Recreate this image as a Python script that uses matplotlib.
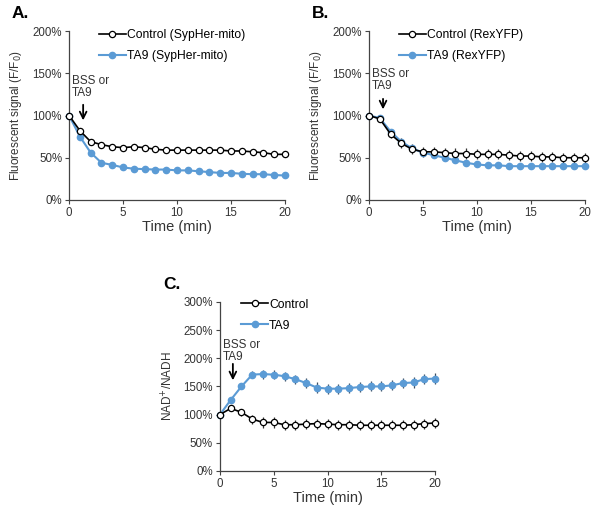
import matplotlib.pyplot as plt
from matplotlib.ticker import FuncFormatter

plt.rcParams['font.family'] = ['Liberation Sans', 'DejaVu Sans']

t = list(range(21))
BLUE = '#5b9bd5'

# panel A: SypHer-mito
a_ctrl = [100, 82, 69, 65.5, 63, 62, 63, 62, 60, 59, 59, 59, 59, 59, 59, 58, 58, 57, 56, 54, 54]
a_ta9 = [100, 75, 56, 44, 41.5, 38.5, 37, 36.5, 36, 36, 35, 35, 34, 33, 32, 32, 31, 30.5, 30.5, 29.5, 29]

# panel B: RexYFP
b_ctrl = [100, 96, 78, 67, 60, 57, 57, 56, 55, 55, 54, 54, 54, 53, 52, 52, 51, 51, 50, 50, 50]
b_ctrl_err = [1, 3, 5, 6, 6, 6, 6, 6, 6, 6, 6, 6, 6, 6, 6, 6, 6, 6, 6, 6, 6]
b_ta9 = [100, 97, 81, 69, 61, 56, 53, 50, 47, 44, 42, 41, 41, 40, 40, 40, 40, 40, 40, 40, 40]
b_ta9_err = [0.5, 1, 3, 3, 3, 2, 2, 2, 1.5, 1.5, 1.5, 1.5, 1.5, 1.5, 1.5, 1.5, 1.5, 1.5, 1.5, 1.5, 1.5]

# panel C: NAD+/NADH
c_ctrl = [100, 111, 104, 92, 86, 86, 82, 82, 83, 84, 83, 82, 82, 81, 81, 81, 81, 81, 82, 84, 85]
c_ctrl_err = [1, 4, 6, 8, 9, 9, 9, 9, 9, 9, 9, 9, 9, 9, 9, 9, 9, 9, 9, 9, 9]
c_ta9 = [100, 126, 150, 171, 172, 171, 168, 163, 156, 148, 146, 146, 147, 149, 150, 150, 152, 156, 157, 163, 164]
c_ta9_err = [1, 4, 5, 6, 8, 8, 8, 8, 9, 9, 9, 9, 9, 9, 9, 9, 9, 9, 9, 9, 9]

pct = FuncFormatter(lambda v, p: '%d%%' % v)


def panel(ax, ctrl, ta9, labels, ymax, ylabel, letter, ctrl_err=None, ta9_err=None,
          txt_y=None, arr=None, leg_x=0.13, leg_y=1.06):
    if ctrl_err is not None:
        ax.errorbar(t, ctrl, yerr=ctrl_err, fmt='none', ecolor='#333333',
                    elinewidth=0.9, capsize=0, clip_on=False, zorder=1)
        ax.errorbar(t, ta9, yerr=ta9_err, fmt='none', ecolor='#3f4f60',
                    elinewidth=0.9, capsize=0, clip_on=False, zorder=1)
    ax.plot(t, ctrl, color='black', lw=1.2, marker='o', ms=4.5, mfc='white',
            mec='black', mew=0.9, label=labels[0], clip_on=False, zorder=3)
    ax.plot(t, ta9, color=BLUE, lw=1.5, marker='o', ms=4.5, mfc=BLUE, mec=BLUE,
            label=labels[1], clip_on=False, zorder=2)
    ax.set_xlim(0, 20)
    ax.set_ylim(0, ymax)
    ax.set_xticks([0, 5, 10, 15, 20])
    ax.set_yticks(range(0, ymax + 1, 50))
    ax.yaxis.set_major_formatter(pct)
    for s in ['top', 'right']:
        ax.spines[s].set_visible(False)
    for s in ['left', 'bottom']:
        ax.spines[s].set_color('#444444')
        ax.spines[s].set_linewidth(0.9)
    ax.tick_params(labelsize=8.3, length=3, width=0.8, color='#444444', pad=2, labelcolor='#333333')
    ax.set_xlabel('Time (min)', fontsize=10.5, labelpad=1, color='#333333')
    ax.set_ylabel(ylabel, fontsize=8.5, labelpad=6, color='#333333')
    ax.text(-0.265, 1.059, letter, transform=ax.transAxes, fontsize=12.5,
            fontweight='bold', va='bottom')
    ax.text(0.25, txt_y, 'BSS or\nTA9', fontsize=8.5, va='top', ha='left',
            linespacing=1.0, color='#333333')
    ax.annotate('', xy=(arr[0], arr[2]), xytext=(arr[0], arr[1]),
                arrowprops=dict(arrowstyle='->', color='black', lw=1.3, mutation_scale=12))
    ax.legend(loc='upper left', bbox_to_anchor=(leg_x - 0.03, leg_y), frameon=False,
              fontsize=8.7, handlelength=2.2, handletextpad=0.1, labelspacing=0.75,
              borderpad=0.2)


fig = plt.figure(figsize=(6.01, 5.18), dpi=100)
axA = fig.add_axes([0.115, 0.614, 0.359, 0.326])
axB = fig.add_axes([0.614, 0.614, 0.359, 0.326])
axC = fig.add_axes([0.366, 0.091, 0.358, 0.326])

panel(axA, a_ctrl, a_ta9, ['Control (SypHer-mito)', 'TA9 (SypHer-mito)'], 200,
      'Fluorescent signal (F/F$_0$)', 'A.', txt_y=148, arr=(1.3, 116, 91))
panel(axB, b_ctrl, b_ta9, ['Control (RexYFP)', 'TA9 (RexYFP)'], 200,
      'Fluorescent signal (F/F$_0$)', 'B.', ctrl_err=b_ctrl_err, ta9_err=b_ta9_err,
      txt_y=156, arr=(1.3, 123, 104))
panel(axC, c_ctrl, c_ta9, ['Control', 'TA9'], 300,
      'NAD$^{+}$/NADH', 'C.', ctrl_err=c_ctrl_err, ta9_err=c_ta9_err,
      txt_y=235, arr=(1.2, 195, 156), leg_x=0.09, leg_y=1.07)

fig.savefig('out.png', dpi=100)
